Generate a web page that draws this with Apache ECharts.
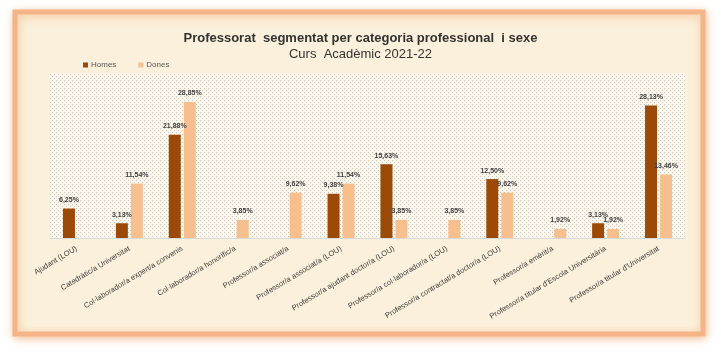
<!DOCTYPE html>
<html>
<head>
<meta charset="utf-8">
<script src="https://cdn.jsdelivr.net/npm/echarts@6/dist/echarts.min.js"></script>
<style>
html,body{margin:0;padding:0;background:#ffffff;}
#chart{width:721px;height:358px;}
</style>
</head>
<body>
<div id="chart"></div>
<script>
const categories = [
  "Ajudant (LOU)",
  "Catedràtic/a Universitat",
  "Col·laborador/a expert/a convenis",
  "Col·laborador/a honorífic/a",
  "Professor/a associat/a",
  "Professor/a associat/a (LOU)",
  "Professor/a ajudant doctor/a (LOU)",
  "Professor/a col·laborador/a (LOU)",
  "Professor/a contractat/a doctor/a (LOU)",
  "Professor/a emèrit/a",
  "Professor/a titular d'Escola Universitària",
  "Professor/a titular d'Universitat"
];
const homes = [6.25, 3.13, 21.88, 0, 0, 9.38, 15.63, 0, 12.50, 0, 3.13, 28.13];
const dones = [0, 11.54, 28.85, 3.85, 9.62, 11.54, 3.85, 3.85, 9.62, 1.92, 1.92, 13.46];
const seriesNames = ["Homes", "Dones"];
const titleText = "Professorat  segmentat per categoria professional  i sexe";
const subtitleText = "Curs  Acadèmic 2021-22";

// dotted pattern for plot area
const pc = document.createElement('canvas');
pc.width = 4; pc.height = 4;
const pctx = pc.getContext('2d');
pctx.fillStyle = '#fcf7ee';
pctx.fillRect(0, 0, 4, 4);
pctx.fillStyle = '#cdc5b6';
pctx.fillRect(0, 0, 1, 1);
pctx.fillRect(2, 2, 1, 1);

const chart = echarts.init(document.getElementById('chart'), null, {renderer: 'canvas'});
const fmt = p => p.value ? p.value.toFixed(2).replace('.', ',') + '%' : '';
const labelStyle = {show: true, position: 'top', distance: 5, formatter: fmt,
  fontSize: 7, fontWeight: 'bold', color: '#404040', fontFamily: 'Liberation Sans'};

chart.setOption({
  backgroundColor: '#ffffff',
  animation: false,
  graphic: [
    {type: 'rect', z: -10, shape: {x: 15, y: 12, width: 688, height: 322},
     style: {fill: '#fbf0db', stroke: '#f4b487', lineWidth: 5,
       shadowBlur: 8, shadowColor: 'rgba(240,160,100,0.6)', shadowOffsetX: 1, shadowOffsetY: 2}}
  ],
  title: {
    text: titleText, subtext: subtitleText, left: 'center', top: 27, itemGap: 3,
    textStyle: {fontFamily: 'Liberation Sans', fontSize: 13, fontWeight: 'bold', color: '#333333'},
    subtextStyle: {fontFamily: 'Liberation Sans', fontSize: 13, color: '#333333'}
  },
  legend: {
    data: seriesNames, left: 78, top: 56, itemWidth: 5, itemHeight: 5, itemGap: 22,
    icon: 'rect',
    textStyle: {fontFamily: 'Liberation Sans', fontSize: 8, color: '#595959', padding: [0, 0, 0, -2]}
  },
  grid: {left: 50, right: 36, top: 73, bottom: 120, show: true, borderWidth: 0,
    backgroundColor: {image: pc, repeat: 'repeat'}},
  xAxis: {
    type: 'category', data: categories,
    axisLine: {lineStyle: {color: '#d9d9d9'}},
    axisTick: {show: false},
    axisLabel: {interval: 0, rotate: 31, margin: 10, fontSize: 7.6, color: '#404040',
      fontFamily: 'Liberation Sans'}
  },
  yAxis: {type: 'value', min: 0, max: 35, show: false, splitLine: {show: false}},
  series: [
    {name: seriesNames[0], type: 'bar', data: homes, barWidth: 12, barGap: '25%',
     itemStyle: {color: '#9c4a07'}, label: labelStyle},
    {name: seriesNames[1], type: 'bar', data: dones, barWidth: 12,
     itemStyle: {color: '#f8bf8e'}, label: labelStyle}
  ]
});
</script>
</body>
</html>
